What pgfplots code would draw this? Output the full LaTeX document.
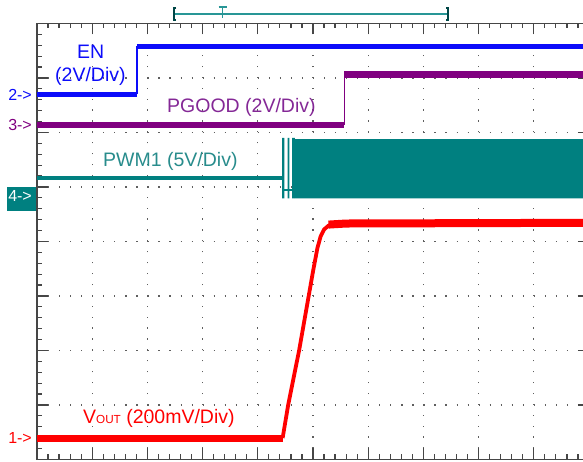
\documentclass[border=0pt]{standalone}
\usepackage{pgfplots}
\pgfplotsset{compat=1.18}
\usepackage{fontspec}
\setmainfont{Liberation Sans}
\definecolor{enblue}{RGB}{12,12,250}
\definecolor{pgpurple}{RGB}{128,0,128}
\definecolor{pglabel}{RGB}{132,40,150}
\definecolor{pwmteal}{RGB}{0,128,128}
\definecolor{pwmlabel}{RGB}{40,140,140}
\definecolor{voutred}{RGB}{255,0,0}
\definecolor{framegray}{RGB}{70,70,70}
\definecolor{dotgray}{RGB}{95,95,95}
\definecolor{barteal}{RGB}{40,150,150}
\definecolor{bardark}{RGB}{0,70,70}
\begin{document}
\begin{tikzpicture}
\path[use as bounding box, clip] (-37pt,-2.5pt) rectangle (546pt,459.5pt);
\begin{axis}[
  x=55.2pt, y=54.5pt,
  xmin=0, xmax=10, ymin=0, ymax=8,
  clip=false,
  axis line style={framegray, line width=1.3pt},
  xtick={0,...,10}, ytick={0,...,8},
  minor x tick num=4, minor y tick num=4,
  xticklabel=\empty, yticklabel=\empty,
  tick align=inside,
  major tick length=11pt, minor tick length=5pt,
  every tick/.style={framegray, line width=1.2pt},
  grid=major,
  x grid style={dotgray, line width=1.2pt, dash pattern=on 1.2pt off 9.7pt},
  y grid style={dotgray, line width=1.2pt, dash pattern=on 1.2pt off 9.84pt},
]
% EN
\addplot[enblue, line width=5.5pt] coordinates {(0,6.70)(1.81,6.70)};
\addplot[enblue, line width=1.5pt] coordinates {(1.81,6.70)(1.81,7.58)};
\addplot[enblue, line width=5.5pt] coordinates {(1.81,7.58)(10,7.58)};
% PGOOD
\addplot[pgpurple, line width=6pt] coordinates {(0,6.14)(5.57,6.14)};
\addplot[pgpurple, line width=1.5pt] coordinates {(5.57,6.14)(5.57,7.06)};
\addplot[pgpurple, line width=7pt] coordinates {(5.57,7.06)(10,7.06)};
% PWM1
\addplot[pwmteal, line width=4pt] coordinates {(0,5.165)(4.44,5.165)};
\addplot[pwmteal, line width=2pt] coordinates {(4.44,4.95)(4.67,4.95)};
\addplot[pwmteal, fill=pwmteal, draw=none] coordinates {(4.44,4.79)(4.44,5.90)(4.48,5.90)(4.48,4.79)(4.44,4.79)};
\addplot[pwmteal, fill=pwmteal, draw=none] coordinates {(4.54,4.79)(4.54,5.90)(4.57,5.90)(4.57,4.79)(4.54,4.79)};
\addplot[pwmteal, fill=pwmteal, draw=none] coordinates {(4.62,4.79)(4.62,5.90)(4.67,5.90)(4.67,4.79)(4.62,4.79)};
\addplot[pwmteal, fill=pwmteal, draw=none] coordinates {(4.67,4.79)(4.67,5.88)(10,5.88)(10,4.79)(4.67,4.79)};
% VOUT
\addplot[voutred, line width=7pt] coordinates {(0,0.394)(4.45,0.394)};
\addplot[voutred, line width=3.8pt, line join=round] coordinates {(4.45,0.394)(4.55,1.0)(4.75,2.01)(4.92,2.99)(5.0,3.45)(5.08,3.88)(5.14,4.10)(5.20,4.22)(5.28,4.29)(5.38,4.33)};
\addplot[voutred, line width=8pt] coordinates {(5.28,4.31)(5.6,4.33)(10,4.343)};
% labels
\node[anchor=base west, inner sep=0, text=enblue, font=\fontsize{19.5}{20}\selectfont] at (axis cs:0.725,7.36) {EN};
\node[anchor=base west, inner sep=0, text=enblue, font=\fontsize{19.5}{20}\selectfont] at (axis cs:0.326,6.94) {(2V/Div)};
\node[anchor=base west, inner sep=0, text=pglabel, font=\fontsize{19.5}{20}\selectfont] at (axis cs:2.355,6.36) {PGOOD (2V/Div)};
\node[anchor=base west, inner sep=0, text=pwmlabel, font=\fontsize{19.5}{20}\selectfont] at (axis cs:1.196,5.37) {PWM1 (5V/Div)};
\node[anchor=base west, inner sep=0, text=voutred, font=\fontsize{19.5}{20}\selectfont] at (axis cs:0.833,0.664) {V{\fontsize{11.7}{12}\selectfont OUT} (200mV/Div)};
% channel markers
\node[anchor=base east, inner sep=0, text=enblue, font=\fontsize{16}{16}\selectfont] at (axis cs:-0.09,6.59) {2->};
\node[anchor=base east, inner sep=0, text=pgpurple, font=\fontsize{16}{16}\selectfont] at (axis cs:-0.09,6.03) {3->};
\fill[pwmteal] (axis cs:-0.543,4.56) rectangle (axis cs:-0.018,5.0);
\node[anchor=base east, inner sep=0, text=white, font=\fontsize{16}{16}\selectfont] at (axis cs:-0.09,4.73) {4->};
\node[anchor=base east, inner sep=0, text=voutred, font=\fontsize{16}{16}\selectfont] at (axis cs:-0.09,0.297) {1->};
% record bar
\draw[barteal, line width=1.3pt] (axis cs:2.482,8.174) -- (axis cs:7.446,8.174);
\draw[bardark, line width=1.5pt] (axis cs:2.52,8.285) -- (axis cs:2.482,8.285) -- (axis cs:2.482,8.06) -- (axis cs:2.52,8.06);
\draw[bardark, line width=1.5pt] (axis cs:7.41,8.285) -- (axis cs:7.446,8.285) -- (axis cs:7.446,8.06) -- (axis cs:7.41,8.06);
\draw[barteal, line width=1.3pt] (axis cs:3.29,8.30) -- (axis cs:3.44,8.30);
\draw[barteal, line width=1.3pt] (axis cs:3.364,8.30) -- (axis cs:3.364,8.10);
\end{axis}
\end{tikzpicture}
\end{document}
